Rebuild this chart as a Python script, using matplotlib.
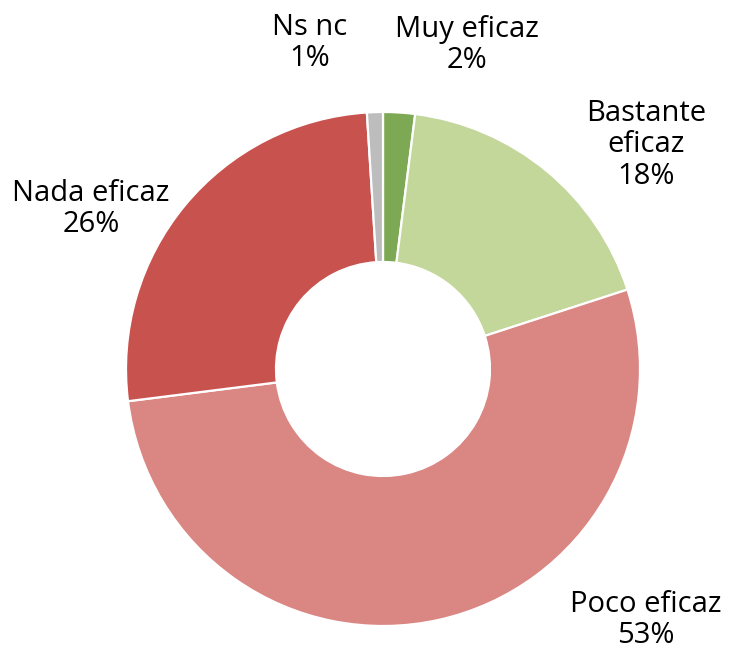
import matplotlib
matplotlib.use('Agg')
import matplotlib.pyplot as plt

labels = ['Muy eficaz', 'Bastante\neficaz', 'Poco eficaz', 'Nada eficaz', 'Ns nc']
values = [2, 18, 53, 26, 1]
colors = ['#7ea954', '#c4d79b', '#da8682', '#c8524e', '#bdbdbd']

# label centres in pixels of the reference image
label_px = [(467, 45), (646, 145), (646, 620), (91, 209), (310, 43)]

W, H = 729, 649
cx, cy, R = 383, 369, 257

plt.rcParams['font.family'] = ['Open Sans', 'DejaVu Sans']

fig = plt.figure(figsize=(W / 100, H / 100), dpi=100)
ax = fig.add_axes([0, 0, 1, 1])
ax.pie(values, colors=colors, startangle=90, counterclock=False,
       radius=1, wedgeprops=dict(width=1 - 107 / 257, edgecolor='white', linewidth=1.6))
ax.set_xlim(-cx / R, (W - cx) / R)
ax.set_ylim(-(H - cy) / R, cy / R)
ax.set_aspect('equal')
ax.axis('off')

for lab, v, (px, py) in zip(labels, values, label_px):
    ax.text((px - cx) / R, (cy - py) / R, f'{lab}\n{v}%', ha='center', va='center',
            fontsize=21, linespacing=1.12, color='#000000')

fig.savefig('out.png', dpi=100)
